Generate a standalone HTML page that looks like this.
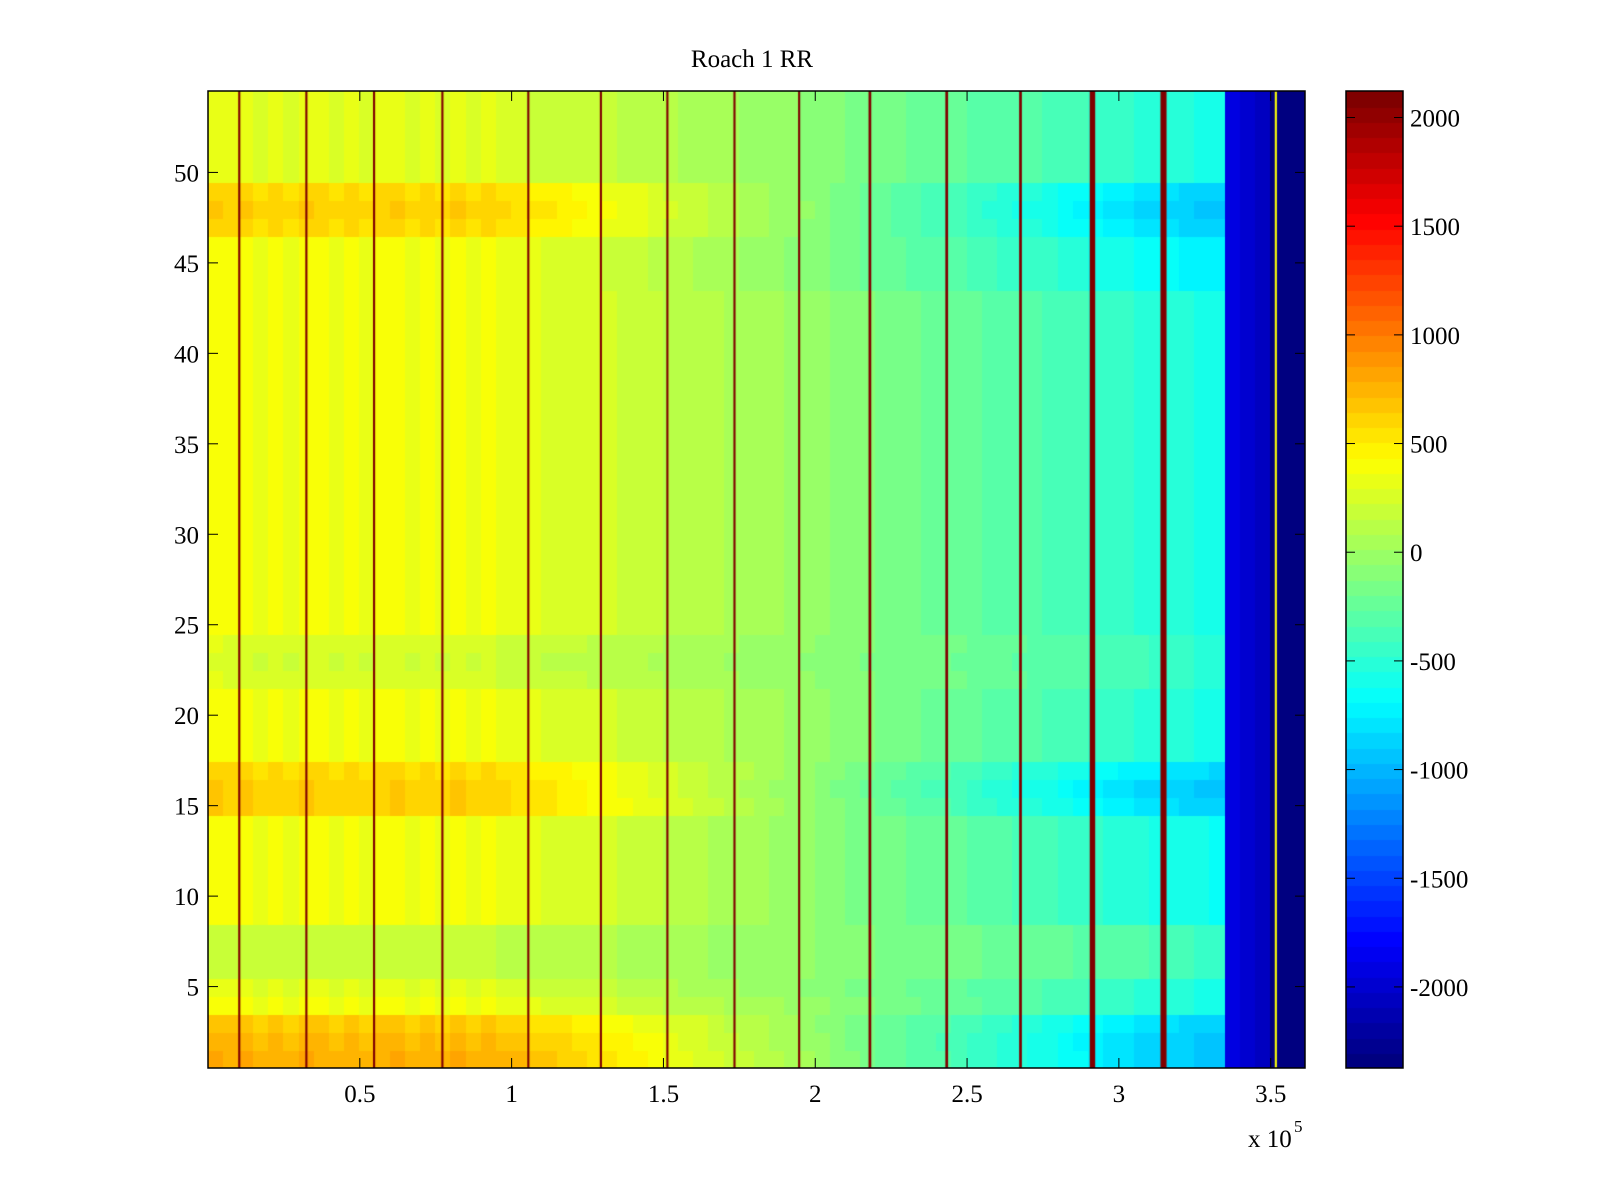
<!DOCTYPE html>
<html><head><meta charset="utf-8"><style>
body{margin:0;background:#fff;width:1600px;height:1200px;overflow:hidden;position:relative;font-family:"Liberation Serif",serif}
canvas{position:absolute}
svg{position:absolute;left:0;top:0}
</style></head><body>
<canvas id="hm" width="1097" height="977" style="left:208px;top:91px"></canvas>
<canvas id="cb" width="57" height="977" style="left:1346px;top:91px"></canvas>
<svg id="ax" width="1600" height="1200"></svg>
<script>
const colBase=[420,380,400,360,380,360,400,380,360,380,
360,380,400,360,380,360,400,360,380,340,
320,300,290,280,270,250,240,220,200,180,
150,130,120,100,70,60,40,20,0,-20,
-50,-70,-100,-120,-150,-160,-180,-200,-200,-220,
-250,-270,-290,-310,-320,-340,-370,-390,-410,-430,
-450,-480,-500,-520,-540,-560,-580,
-1900,-2000,-2050,
-2373,-2373,-2373];
const rowLeft=[400,350,280,0,-80,-200,-200,-200,0,0,0,0,0,0,250,250,200,0,0,0,0,-120,-150,-120,
0,0,0,0,0,0,0,0,0,0,0,0,0,0,0,0,0,0,0,0,0,0,200,250,200,-80,-80,-80,-80,-80];
const rowRight=[-350,-350,-300,0,0,150,150,150,-50,-50,-50,-50,-50,-50,-300,-350,-250,0,0,0,0,80,80,80,
0,0,0,0,0,0,0,0,0,0,0,0,0,0,0,0,0,0,0,-150,-150,-150,-300,-350,-300,0,0,0,0,0];
const lineX=[10300,32400,54700,77200,105500,129400,151300,173400,194700,218000,243300,267600,291300,314700,351700];
const lineVal=[2100,2100,2100,2100,2100,2100,2100,2100,2100,2100,2100,2100,2100,2100,400];
const lineW=[700,700,700,700,700,700,700,700,700,900,900,900,1800,2000,700];
const xTicks=[0.5,1,1.5,2,2.5,3,3.5];
const yTicks=[5,10,15,20,25,30,35,40,45,50];
const cTicks=[2000,1500,1000,500,0,-500,-1000,-1500,-2000];
const X0=208,X1=1305,Y0=91,Y1=1068,XMIN=0,XMAX=361300,CMIN=-2373,CMAX=2122,NR=54;
const sx=v=>X0+(v-XMIN)/(XMAX-XMIN)*(X1-X0);
const sy=r=>Y1-(r-0.5)/NR*(Y1-Y0);
function jet(v){let t=(v-CMIN)/(CMAX-CMIN);t=Math.max(0,Math.min(1,t));t=Math.floor(t*63.999)/63;
const f=x=>Math.round(255*Math.max(0,Math.min(1,1.5-Math.abs(4*t-x))));return `rgb(${f(3)},${f(2)},${f(1)})`;}
const hm=document.getElementById('hm').getContext('2d');
colBase.forEach((b,c)=>{const xa=sx(c*5000)-X0,xb=sx((c+1)*5000)-X0;const w=Math.min(1,Math.max(0,(c*5000-100000)/200000));
for(let r=1;r<=NR;r++){let off=b<-1500?0:rowLeft[r-1]*(1-w)+rowRight[r-1]*w;hm.fillStyle=jet(b+off);
hm.fillRect(Math.floor(xa),Math.floor(sy(r+0.5)-Y0),Math.ceil(xb-xa)+1,Math.ceil(sy(r-0.5)-sy(r+0.5))+1);}});
lineX.forEach((x,i)=>{hm.fillStyle=jet(lineVal[i]);const a=sx(x-lineW[i]/2)-X0,b=sx(x+lineW[i]/2)-X0;hm.fillRect(a,0,Math.max(2,b-a),977);});
const cb=document.getElementById('cb').getContext('2d');
for(let k=0;k<64;k++){const v=CMIN+(k+0.5)/64*(CMAX-CMIN);cb.fillStyle=jet(v);const ya=977-(k+1)/64*977;cb.fillRect(0,Math.floor(ya),57,Math.ceil(977/64)+1);}
const ax=document.getElementById('ax');const NS='http://www.w3.org/2000/svg';
function el(tag,attrs,txt){const e=document.createElementNS(NS,tag);for(const k in attrs)e.setAttribute(k,attrs[k]);if(txt!==undefined)e.textContent=txt;ax.appendChild(e);return e;}
let e;
e=el('rect',{x:X0,y:Y0,width:X1-X0,height:Y1-Y0,fill:'none',stroke:'#000','stroke-width':1.5});


e=el('rect',{x:1346,y:Y0,width:57,height:Y1-Y0,fill:'none',stroke:'#000','stroke-width':1.5});


xTicks.forEach(t=>{const x=sx(t*1e5);el('line',{x1:x,x2:x,y1:Y1,y2:Y1-10,stroke:'#000'});el('line',{x1:x,x2:x,y1:Y0,y2:Y0+10,stroke:'#000'});
e=el('text',{x:x,y:1102,'text-anchor':'middle','font-size':25},String(t));

});
yTicks.forEach(t=>{const y=sy(t);el('line',{x1:X0,x2:X0+10,y1:y,y2:y,stroke:'#000'});el('line',{x1:X1,x2:X1-10,y1:y,y2:y,stroke:'#000'});
e=el('text',{x:X0-9,y:y+9,'text-anchor':'end','font-size':25},String(t));

});
cTicks.forEach(t=>{const y=Y1-(t-CMIN)/(CMAX-CMIN)*(Y1-Y0);el('line',{x1:1346,x2:1355,y1:y,y2:y,stroke:'#000'});el('line',{x1:1403,x2:1394,y1:y,y2:y,stroke:'#000'});
e=el('text',{x:1410,y:y+9,'font-size':25},String(t));

});
e=el('text',{x:752,y:67,'text-anchor':'middle','font-size':25},'Roach 1 RR');


e=el('text',{x:1248,y:1147,'font-size':25},'x 10');


e=el('text',{x:1294,y:1132,'font-size':17},'5');


</script>
</body></html>
